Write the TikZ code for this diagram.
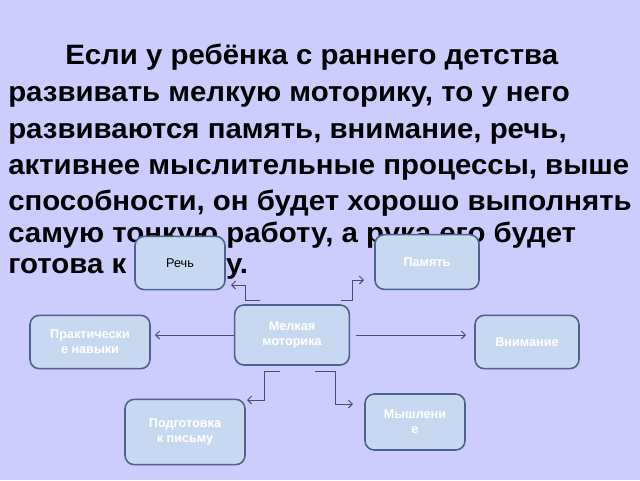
\documentclass[tikz,border=0pt]{standalone}
\usepackage{fontspec}
\setmainfont{Liberation Sans}
\newfontfamily\widefont[FakeStretch=1.05,FakeBold=0]{Liberation Sans}
\usetikzlibrary{arrows.meta}
\definecolor{bg}{RGB}{204,204,255}
\definecolor{boxfill}{RGB}{198,217,241}
\definecolor{boxdraw}{RGB}{79,98,140}
\definecolor{conn}{RGB}{70,80,110}
\begin{document}
\begin{tikzpicture}[x=0.75pt,y=-0.75pt,
  line/.style={font=\widefont\bfseries\fontsize{21}{24}\selectfont,anchor=base west,inner sep=0},
  box/.style={draw=boxdraw,line width=1.2pt,fill=boxfill,rounded corners=7pt,text=white,font=\bfseries\fontsize{9.5}{11.5}\selectfont,align=center,inner sep=2pt},
  con/.style={draw=conn,line width=0.7pt},
  arr/.style={con,-{Straight Barb[length=3pt,width=6pt]}}]
\fill[bg] (0,0) rectangle (640,480);
\node[line] (l1) at (65,64) {Если у  ребёнка с раннего детства};
\node[line] (l2) at (8,101) {развивать мелкую моторику,  то  у него};
\node[line] (l3) at (8,138) {развиваются память, внимание, речь,};
\node[line] (l4) at (8,174) {активнее мыслительные процессы,  выше};
\node[line] (l5) at (8,210) {способности, он будет хорошо выполнять};
\node[line] (l6) at (8,242) {самую тонкую работу, а рука его  будет};
\node[line] (l7) at (8,273) {готова к письму.};
\node[box,minimum width=67.5pt,minimum height=40pt,text=black,font=\fontsize{9.5}{11.5}\selectfont] (r) at (180,263) {Речь};
\node[box,minimum width=78pt,minimum height=41pt] (p) at (427,262) {Память};
\node[box,minimum width=86pt,minimum height=45pt] (m) at (292,335) {Мелкая\\моторика};
\node[box,minimum width=90pt,minimum height=40pt] (pr) at (90,342) {Практически\\е навыки};
\node[box,minimum width=78pt,minimum height=40pt] (v) at (527,342) {Внимание};
\node[box,minimum width=90pt,minimum height=49pt] (pg) at (185,432) {Подготовка\\к письму};
\node[box,minimum width=75pt,minimum height=42pt] (ms) at (415,422) {Мышлени\\е};
\coordinate (a1) at (260,300); \coordinate (a2) at (245,300); \coordinate (a3) at (245,285); \coordinate (a4) at (231,285);
\draw[arr] (a1) -- (a2) -- (a3) -- (a4);
\coordinate (b1) at (341,300); \coordinate (b2) at (352,300); \coordinate (b3) at (352,280); \coordinate (b4) at (364,280);
\draw[arr] (b1) -- (b2) -- (b3) -- (b4);
\coordinate (c1) at (155,335); \draw[arr] (m.west |- c1) -- (c1);
\coordinate (d0) at (356,335); \coordinate (d1) at (466,335); \draw[arr] (d0) -- (d1);
\coordinate (e1) at (280,371); \coordinate (e2) at (264,371); \coordinate (e3) at (264,400); \coordinate (e4) at (247,400);
\draw[arr] (e1) -- (e2) -- (e3) -- (e4);
\coordinate (f1) at (315,371); \coordinate (f2) at (335,371); \coordinate (f3) at (335,404); \coordinate (f4) at (353,404);
\draw[arr] (f1) -- (f2) -- (f3) -- (f4);
\end{tikzpicture}
\end{document}
